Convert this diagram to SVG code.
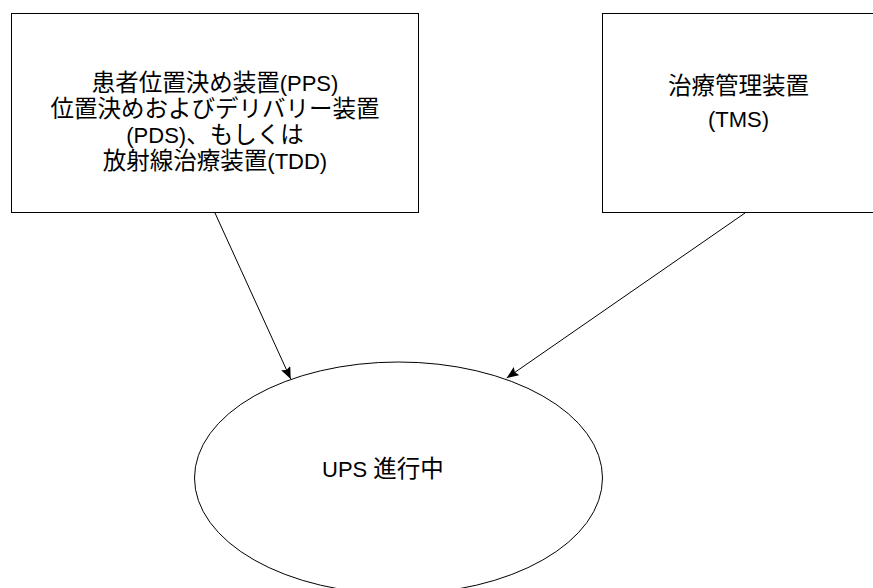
<svg xmlns="http://www.w3.org/2000/svg" width="873" height="588" viewBox="0 0 873 588">
<style>
.box{fill:#fff;stroke:#000;stroke-width:1}
.t{font-family:"Liberation Sans","Noto Sans CJK JP",sans-serif;font-size:22px;fill:#000;text-anchor:middle}
.j{font-family:"Noto Sans CJK JP",sans-serif;font-size:23.5px}
.edge{fill:none;stroke:#000;stroke-width:1}
</style>
<defs>
<marker id="arr" markerUnits="userSpaceOnUse" markerWidth="13" markerHeight="11" refX="12" refY="5" orient="auto" viewBox="0 0 13 11">
<path d="M0,0 L12,5 L0,10 L2,5 z" fill="#000"/>
</marker>
</defs>
<rect width="873" height="588" fill="#fff"/>
<g id="node-pps">
<rect class="box" x="11.5" y="13.5" width="407" height="199"/>
<text class="t" x="215" y="91"><tspan class="j">患者位置決め装置</tspan>(PPS)</text>
<text class="t" x="215" y="117"><tspan class="j">位置決めおよびデリバリー装置</tspan></text>
<text class="t" x="215" y="143">(PDS)<tspan class="j">、もしくは</tspan></text>
<text class="t" x="215" y="169"><tspan class="j">放射線治療装置</tspan>(TDD)</text>
</g>
<g id="node-tms">
<rect class="box" x="602.5" y="13.5" width="280" height="199"/>
<text class="t" x="738.5" y="94"><tspan class="j">治療管理装置</tspan></text>
<text class="t" x="738.5" y="126.5">(TMS)</text>
</g>
<g id="node-ups">
<ellipse class="box" cx="398.5" cy="478" rx="204" ry="116"/>
<text class="t" x="322" y="477" style="text-anchor:start">UPS <tspan class="j">進行中</tspan></text>
</g>
<g id="connectors">
<line class="edge" x1="215" y1="213" x2="290.7" y2="379" marker-end="url(#arr)"/>
<line class="edge" x1="745" y1="213" x2="506.7" y2="378" marker-end="url(#arr)"/>
</g>
</svg>
